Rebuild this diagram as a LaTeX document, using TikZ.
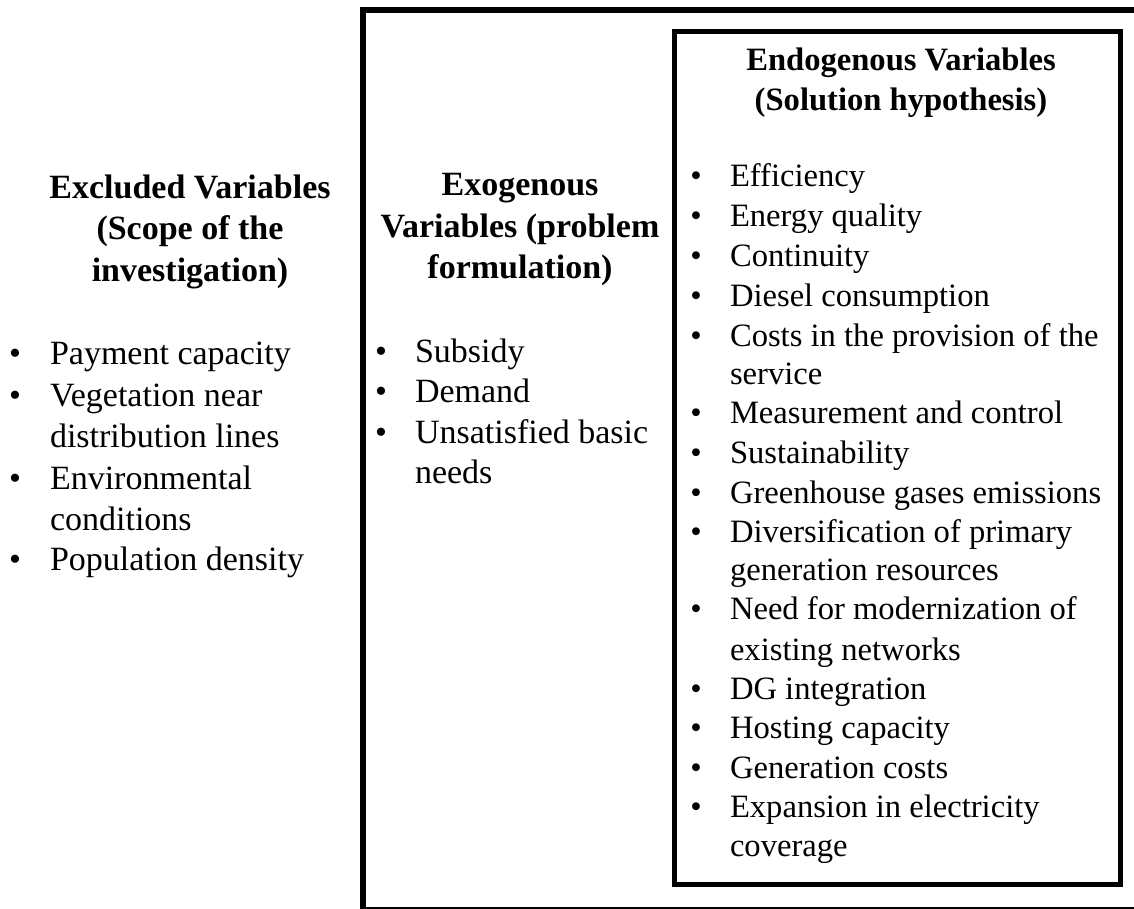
\documentclass[tikz,border=0pt]{standalone}
\usepackage{fontspec}
\setmainfont{Liberation Serif}
\begin{document}
\begin{tikzpicture}[x=1pt,y=-1pt,
  every node/.style={inner sep=0pt,outer sep=0pt},
  big/.style={font=\fontsize{34}{41}\selectfont},
  small/.style={font=\fontsize{32.6}{39.4}\selectfont},
  hdbig/.style={big,font=\fontsize{34}{41}\selectfont\bfseries,anchor=base},
  hdsmall/.style={small,font=\fontsize{32.6}{39.4}\selectfont\bfseries,anchor=base},
  itembig/.style={big,anchor=base west},
  itemsmall/.style={small,anchor=base west},
  bulbig/.style={big,anchor=base},
  bulsmall/.style={small,anchor=base},
  outerbox/.style={draw=black,line width=6pt},
  innerbox/.style={draw=black,line width=5pt}]
\useasboundingbox (0,0) rectangle (1134,909);
\fill[white] (0,0) rectangle (1134,909);
% boxes
\draw[outerbox] (363,10) rectangle (1140,909.5);
\draw[innerbox] (674.5,31.5) rectangle (1120.5,884.5);
% Excluded
\node[hdbig] (xh1) at (190,199) {Excluded Variables};
\node[hdbig] (xh2) at (190,240) {(Scope of the};
\node[hdbig] (xh3) at (190,281) {investigation)};
\node[bulbig] (xb1) at (15,364) {\textbullet};
\node[itembig] (x1) at (50,364) {Payment capacity};
\node[bulbig] (xb2) at (15,406) {\textbullet};
\node[itembig] (x2a) at (50,406) {Vegetation near};
\node[itembig] (x2b) at (50,447) {distribution lines};
\node[bulbig] (xb3) at (15,489) {\textbullet};
\node[itembig] (x3a) at (50,489) {Environmental};
\node[itembig] (x3b) at (50,530) {conditions};
\node[bulbig] (xb4) at (15,570) {\textbullet};
\node[itembig] (x4) at (50,570) {Population density};
% Exogenous
\node[hdbig] (gh1) at (520,196) {Exogenous};
\node[hdbig] (gh2) at (520,237) {Variables (problem};
\node[hdbig] (gh3) at (520,278) {formulation)};
\node[bulbig] (gb1) at (381,362) {\textbullet};
\node[itembig] (g1) at (415,362) {Subsidy};
\node[bulbig] (gb2) at (381,402) {\textbullet};
\node[itembig] (g2) at (415,402) {Demand};
\node[bulbig] (gb3) at (381,443) {\textbullet};
\node[itembig] (g3a) at (415,443) {Unsatisfied basic};
\node[itembig] (g3b) at (415,483) {needs};
% Endogenous
\node[hdsmall] (nh1) at (901,71) {Endogenous Variables};
\node[hdsmall] (nh2) at (901,111) {(Solution hypothesis)};
\node[bulsmall] (nb1) at (696,187) {\textbullet};
\node[itemsmall] (n1) at (730,187) {Efficiency};
\node[bulsmall] (nb2) at (696,227) {\textbullet};
\node[itemsmall] (n2) at (730,227) {Energy quality};
\node[bulsmall] (nb3) at (696,266) {\textbullet};
\node[itemsmall] (n3) at (730,266) {Continuity};
\node[bulsmall] (nb4) at (696,306) {\textbullet};
\node[itemsmall] (n4) at (730,306) {Diesel consumption};
\node[bulsmall] (nb5) at (696,346) {\textbullet};
\node[itemsmall] (n5a) at (730,346) {Costs in the provision of the};
\node[itemsmall] (n5b) at (730,384) {service};
\node[bulsmall] (nb6) at (696,423) {\textbullet};
\node[itemsmall] (n6) at (730,423) {Measurement and control};
\node[bulsmall] (nb7) at (696,463) {\textbullet};
\node[itemsmall] (n7) at (730,463) {Sustainability};
\node[bulsmall] (nb8) at (696,503) {\textbullet};
\node[itemsmall] (n8) at (730,503) {Greenhouse gases emissions};
\node[bulsmall] (nb9) at (696,542) {\textbullet};
\node[itemsmall] (n9a) at (730,542) {Diversification of primary};
\node[itemsmall] (n9b) at (730,580) {generation resources};
\node[bulsmall] (nb10) at (696,619) {\textbullet};
\node[itemsmall] (n10a) at (730,619) {Need for modernization of};
\node[itemsmall] (n10b) at (730,660) {existing networks};
\node[bulsmall] (nb11) at (696,699) {\textbullet};
\node[itemsmall] (n11) at (730,699) {DG integration};
\node[bulsmall] (nb12) at (696,738) {\textbullet};
\node[itemsmall] (n12) at (730,738) {Hosting capacity};
\node[bulsmall] (nb13) at (696,778) {\textbullet};
\node[itemsmall] (n13) at (730,778) {Generation costs};
\node[bulsmall] (nb14) at (696,817) {\textbullet};
\node[itemsmall] (n14a) at (730,817) {Expansion in electricity};
\node[itemsmall] (n14b) at (730,856) {coverage};
\end{tikzpicture}
\end{document}
